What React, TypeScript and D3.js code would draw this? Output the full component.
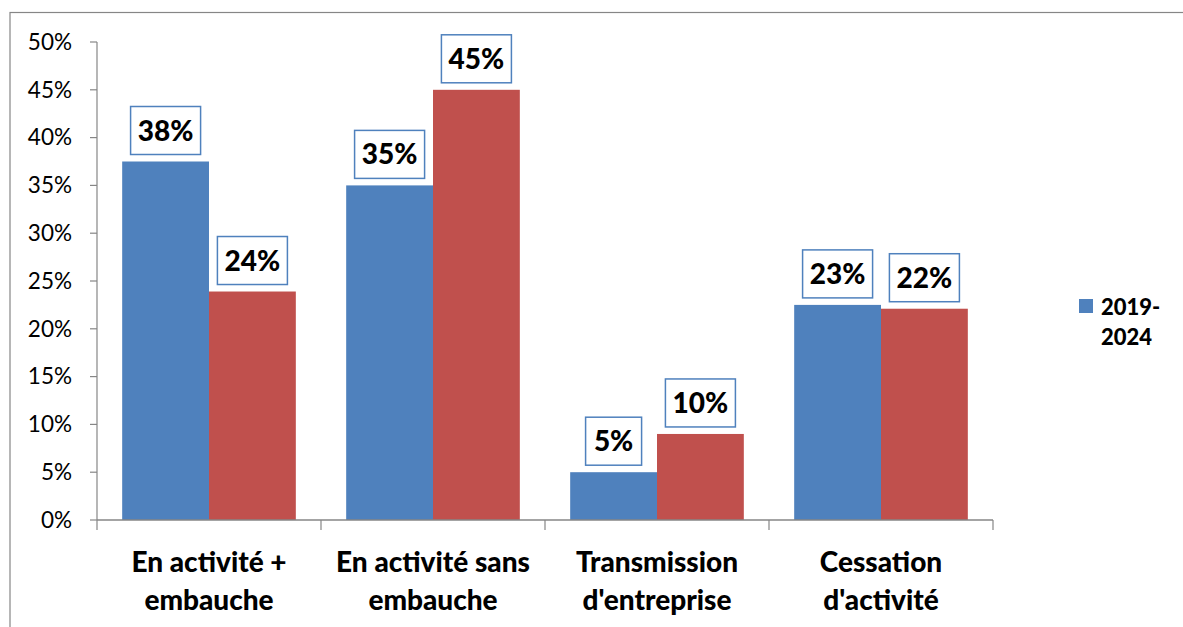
import React from 'react';
import * as d3 from 'd3';

const categories = [
  ['En activité +', 'embauche'],
  ['En activité sans', 'embauche'],
  ['Transmission', "d'entreprise"],
  ['Cessation', "d'activité"],
];
const seriesA = [37.5, 35, 5, 22.5];
const seriesB = [23.9, 45, 9, 22.1];
const labelsA = ['38%', '35%', '5%', '23%'];
const labelsB = ['24%', '45%', '10%', '22%'];
const yTicks = [0, 5, 10, 15, 20, 25, 30, 35, 40, 45, 50];
const legendLines = ['2019-', '2024'];

const BLUE = '#4f81bd';
const RED = '#c0504d';
const AXIS = '#868686';
const FONT = 'Lato, "Open Sans", sans-serif';

export default function App() {
  const width = 1183;
  const height = 627;
  const left = 97;
  const right = 993;
  const top = 42;
  const bottom = 520;

  const x = d3.scaleBand<number>().domain(d3.range(categories.length)).range([left, right]);
  const inner = d3.scaleBand<number>().domain([0, 1]).range([0, x.bandwidth()]).paddingOuter(0.29);
  const y = d3.scaleLinear().domain([0, 50]).range([bottom, top]);

  const series = [
    { values: seriesA, labels: labelsA, color: BLUE },
    { values: seriesB, labels: labelsB, color: RED },
  ];

  return (
    <svg width={width} height={height} style={{ position: 'absolute', left: 0, top: 0, background: '#fff' }}>
      <rect x={10} y={12.5} width={1180} height={640} fill="#fff" stroke={AXIS} strokeWidth={1.2} />

      {/* y axis */}
      <line x1={left} x2={left} y1={top} y2={bottom} stroke={AXIS} strokeWidth={1.2} />
      {yTicks.map(t => (
        <g key={t}>
          <line x1={left - 7} x2={left} y1={y(t)} y2={y(t)} stroke={AXIS} strokeWidth={1.2} />
          <text x={72} y={y(t)} dy="0.35em" textAnchor="end" fontFamily={FONT} fontSize={22.5} fill="#000">
            {t + '%'}
          </text>
        </g>
      ))}

      {/* bars */}
      {series.map((s, si) =>
        s.values.map((v, i) => {
          const bx = (x(i) as number) + (inner(si) as number);
          const bw = inner.bandwidth();
          return (
            <rect key={`b${si}-${i}`} x={bx} y={y(v)} width={bw} height={bottom - y(v)} fill={s.color} />
          );
        })
      )}

      {/* x axis */}
      <line x1={left} x2={right} y1={bottom} y2={bottom} stroke={AXIS} strokeWidth={1.5} />
      {d3.range(categories.length + 1).map(i => {
        const tx = left + i * x.step();
        return <line key={`xt${i}`} x1={tx} x2={tx} y1={bottom} y2={bottom + 10} stroke={AXIS} strokeWidth={1.2} />;
      })}

      {/* data labels */}
      {series.map((s, si) =>
        s.values.map((v, i) => {
          const cx = (x(i) as number) + (inner(si) as number) + inner.bandwidth() / 2;
          const lbl = s.labels[i];
          const bw = lbl.length === 2 ? 56 : 70;
          const by = y(v) - 7 - 48;
          return (
            <g key={`l${si}-${i}`}>
              <rect x={cx - bw / 2} y={by} width={bw} height={48} fill="#fff" stroke={BLUE} strokeWidth={1.5} />
              <text x={cx} y={by + 24} dy="0.36em" textAnchor="middle" fontFamily={FONT} fontWeight={900} fontSize={28} fill="#000">
                {lbl}
              </text>
            </g>
          );
        })
      )}

      {/* category labels */}
      {categories.map((lines, i) => {
        const cx = (x(i) as number) + x.bandwidth() / 2;
        return (
          <text key={`c${i}`} textAnchor="middle" fontFamily={FONT} fontWeight={900} fontSize={28} fill="#000">
            {lines.map((ln, j) => (
              <tspan key={j} x={cx} y={572 + j * 38}>{ln}</tspan>
            ))}
          </text>
        );
      })}

      {/* legend */}
      <rect x={1079} y={299} width={14} height={14} fill={BLUE} />
      <text fontFamily={FONT} fontWeight={900} fontSize={22} fill="#000">
        {legendLines.map((ln, j) => (
          <tspan key={j} x={1101} y={315 + j * 30}>{ln}</tspan>
        ))}
      </text>
    </svg>
  );
}
